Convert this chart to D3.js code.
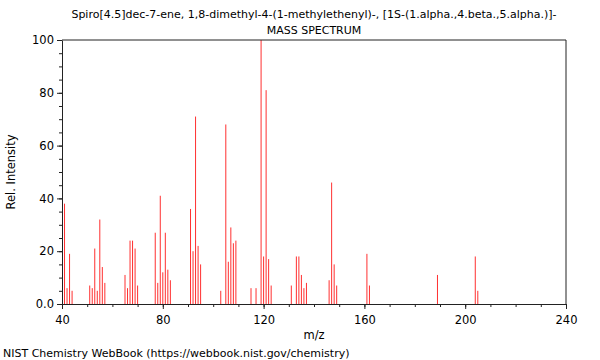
<!DOCTYPE html>
<html>
<head>
<meta charset="utf-8">
<script src="https://cdn.jsdelivr.net/npm/d3@7"></script>
<style>
  body { margin: 0; background: #fff; }
  text { font-family: "DejaVu Sans", sans-serif; }
</style>
</head>
<body>
<div id="chart"></div>
<script>
// peaks
var mz = [41, 42, 43, 44, 51, 52, 53, 54, 55, 56, 57, 65, 66, 67, 68, 69, 70,
  77, 78, 79, 80, 81, 82, 83, 91, 92, 93, 94, 95, 103, 105, 106, 107, 108, 109,
  115, 117, 119, 120, 121, 122, 123, 131, 133, 134, 135, 136, 137,
  146, 147, 148, 149, 161, 162, 189, 204, 205];
var intensity = [38, 6, 19, 5, 7, 6, 21, 5, 32, 14, 8, 11, 6, 24, 24, 21, 7,
  27, 8, 41, 12, 27, 13, 9, 36, 20, 71, 22, 15, 5, 68, 16, 29, 23, 24,
  6, 6, 100, 18, 81, 17, 7, 7, 18, 18, 11, 6, 8,
  9, 46, 15, 7, 19, 7, 11, 18, 5];
var xTicks = [40, 80, 120, 160, 200, 240];
var yTicks = [0, 20, 40, 60, 80, 100];
var title = "Spiro[4.5]dec-7-ene, 1,8-dimethyl-4-(1-methylethenyl)-, [1S-(1.alpha.,4.beta.,5.alpha.)]-";

var svg = d3.select("#chart").append("svg").attr("width", 600).attr("height", 360);

var plotLeft = 62, plotRight = 566, plotTop = 40, plotBottom = 304;

var x_scale = d3.scaleLinear().domain([40, 240]).range([plotLeft, plotRight]);
var y_scale = d3.scaleLinear().domain([0, 100]).range([plotBottom, plotTop]);

// peaks
svg.append("g")
    .selectAll("line")
    .data(mz)
    .enter()
    .append("line")
    .attr("x1", function (d) { return x_scale(d); })
    .attr("x2", function (d) { return x_scale(d); })
    .attr("y1", y_scale(0))
    .attr("y2", function (d, i) { return y_scale(intensity[i]); })
    .style("stroke", "#ff3030")
    .style("stroke-width", 1);

// minor ticks
svg.append("g")
    .attr("transform", "translate(0," + plotBottom + ")")
    .call(d3.axisBottom(x_scale).ticks(20).tickSize(3).tickFormat(""))
    .call(function (g) { g.select(".domain").remove(); });
svg.append("g")
    .attr("transform", "translate(" + plotLeft + ",0)")
    .call(d3.axisLeft(y_scale).ticks(20).tickSize(3).tickFormat(""))
    .call(function (g) { g.select(".domain").remove(); });

// major axes
svg.append("g")
    .attr("transform", "translate(0," + plotBottom + ")")
    .call(d3.axisBottom(x_scale).tickValues(xTicks).tickSize(5).tickSizeOuter(0).tickPadding(7));
svg.append("g")
    .attr("transform", "translate(" + plotLeft + ",0)")
    .call(d3.axisLeft(y_scale).tickValues(yTicks).tickSize(5).tickSizeOuter(0).tickPadding(3)
        .tickFormat(function (d) { return d == 0 ? "0.0" : d; }));
svg.selectAll(".tick text").style("font-size", "11.5px").style("fill", "#000");
svg.selectAll(".tick line, .domain").style("stroke", "#222");

// top and right frame
svg.append("path")
    .attr("d", "M" + plotLeft + "," + plotTop + "H" + plotRight + "V" + plotBottom)
    .style("fill", "none")
    .style("stroke", "#222");

// texts
svg.append("text").attr("x", 314).attr("y", 18).attr("text-anchor", "middle")
    .style("font-size", "11px").text(title);
svg.append("text").attr("x", 314).attr("y", 34).attr("text-anchor", "middle")
    .style("font-size", "11px").text("MASS SPECTRUM");
svg.append("text").attr("x", 314).attr("y", 339).attr("text-anchor", "middle")
    .style("font-size", "11.5px").text("m/z");
svg.append("text").attr("text-anchor", "middle")
    .attr("transform", "translate(15," + 172 + ") rotate(-90)")
    .style("font-size", "11.5px").text("Rel. Intensity");
svg.append("text").attr("x", 3).attr("y", 357)
    .style("font-size", "11px").text("NIST Chemistry WebBook (https://webbook.nist.gov/chemistry)");
</script>
</body>
</html>
